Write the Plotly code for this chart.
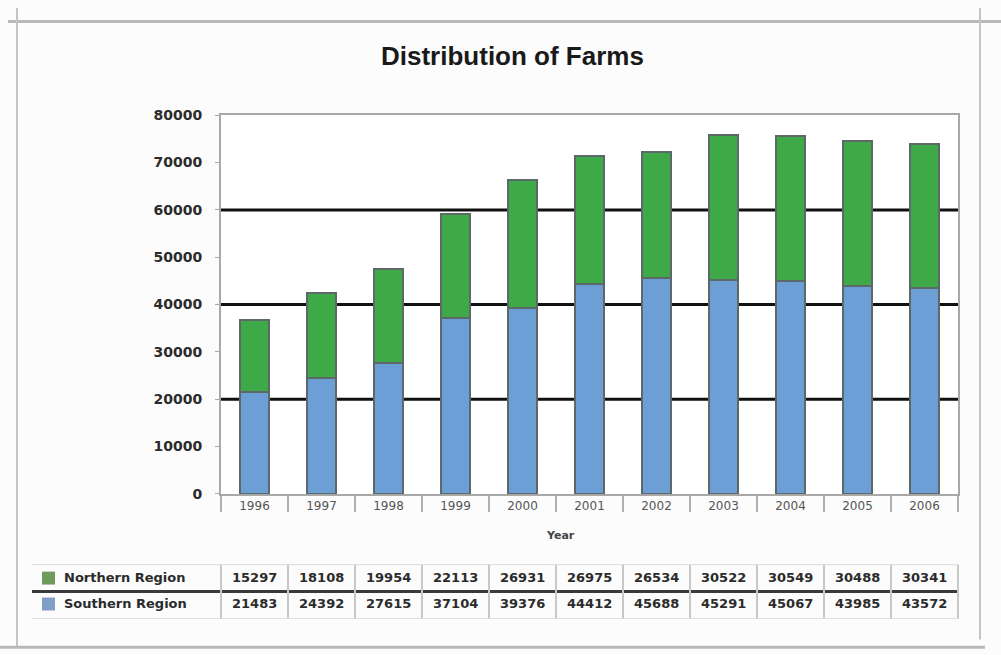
import plotly.graph_objects as go

# Farm counts by year for the two regions (stacked)
years = ["1996", "1997", "1998", "1999", "2000", "2001", "2002", "2003", "2004", "2005", "2006"]
southern_region = [21483, 24392, 27615, 37104, 39376, 44412, 45688, 45291, 45067, 43985, 43572]
northern_region = [15297, 18108, 19954, 22113, 26931, 26975, 26534, 30522, 30549, 30488, 30341]
series_names = ["Northern Region", "Southern Region"]
y_ticks = [0, 10000, 20000, 30000, 40000, 50000, 60000, 70000, 80000]
grid_values = [20000, 40000, 60000]

W, H = 1001, 655
# vertical correction for the page's rendered layout
V_SCALE, V_OFF = 0.979, 6.4


def px(x):
    return x / W


def py(y):
    return 1 - ((y - V_OFF) / V_SCALE) / H


BLUE = "#6b9fd6"
GREEN = "#3daa47"
EDGE = "#5d6868"
TXT = "#2b2b2b"
FONT = "DejaVu Sans"

fig = go.Figure()
fig.add_trace(go.Bar(x=years, y=southern_region, name=series_names[1],
                     marker=dict(color=BLUE, line=dict(color=EDGE, width=2))))
fig.add_trace(go.Bar(x=years, y=northern_region, name=series_names[0],
                     marker=dict(color=GREEN, line=dict(color=EDGE, width=2))))

shapes = []
# page frame lines
shapes.append(dict(type="line", xref="paper", yref="paper", x0=px(8), x1=1, y0=py(20), y1=py(20),
                   line=dict(color="#b8b8b8", width=3)))
shapes.append(dict(type="line", xref="paper", yref="paper", x0=px(17), x1=px(17), y0=1, y1=py(648),
                   line=dict(color="#c4c4c4", width=2)))
shapes.append(dict(type="line", xref="paper", yref="paper", x0=px(980), x1=px(980), y0=1, y1=py(640),
                   line=dict(color="#c4c4c4", width=2)))
shapes.append(dict(type="line", xref="paper", yref="paper", x0=0, x1=px(985), y0=py(648), y1=py(648),
                   line=dict(color="#b8b8b8", width=3)))

# heavy gridlines behind the bars
for g in grid_values:
    shapes.append(dict(type="line", xref="x domain", yref="y", x0=0, x1=1, y0=g, y1=g,
                       layer="below", line=dict(color="#111111", width=3)))

# data table under the chart
tbl_left, tbl_right = 32, 958
row_top, row_mid, row_bot = 565, 592, 619
plot_left, plot_right = 221, 958
col_w = (plot_right - plot_left) / len(years)
shapes.append(dict(type="line", xref="paper", yref="paper", x0=px(tbl_left), x1=px(tbl_right),
                   y0=py(row_mid), y1=py(row_mid), line=dict(color="#3a3a3a", width=3)))
shapes.append(dict(type="line", xref="paper", yref="paper", x0=px(tbl_left), x1=px(tbl_right),
                   y0=py(row_top), y1=py(row_top), line=dict(color="#dddddd", width=1)))
shapes.append(dict(type="line", xref="paper", yref="paper", x0=px(tbl_left), x1=px(tbl_right),
                   y0=py(row_bot), y1=py(row_bot), line=dict(color="#dddddd", width=1)))
for k in range(len(years) + 1):
    xb = plot_left + k * col_w
    shapes.append(dict(type="line", xref="paper", yref="paper", x0=px(xb), x1=px(xb),
                       y0=py(row_top), y1=py(row_bot), line=dict(color="#c8c8c8", width=2)))

# legend swatches in the table
shapes.append(dict(type="rect", xref="paper", yref="paper", x0=px(42), x1=px(55),
                   y0=py(585), y1=py(572), fillcolor="#6f9a5e", line=dict(width=0)))
shapes.append(dict(type="rect", xref="paper", yref="paper", x0=px(42), x1=px(55),
                   y0=py(611), y1=py(598), fillcolor="#7f9fc4", line=dict(width=0)))

annotations = [
    dict(text="<b>Distribution of Farms</b>", xref="paper", yref="paper", x=px(512), y=py(55),
         xanchor="center", yanchor="middle", showarrow=False,
         font=dict(family="Liberation Sans", size=26, color="#1a1a1a")),
    dict(text="<b>Year</b>", xref="paper", yref="paper", x=px(560), y=py(536),
         xanchor="center", yanchor="middle", showarrow=False,
         font=dict(family=FONT, size=11, color="#444")),
    dict(text="<b>" + series_names[0] + "</b>", xref="paper", yref="paper", x=px(62), y=py(578),
         xanchor="left", yanchor="middle", showarrow=False,
         font=dict(family=FONT, size=13, color=TXT)),
    dict(text="<b>" + series_names[1] + "</b>", xref="paper", yref="paper", x=px(62), y=py(604),
         xanchor="left", yanchor="middle", showarrow=False,
         font=dict(family=FONT, size=13, color=TXT)),
]
for i, (g, b) in enumerate(zip(northern_region, southern_region)):
    annotations.append(dict(text="<b>%d</b>" % g, xref="x", yref="paper", x=i, y=py(578),
                            xanchor="center", yanchor="middle", showarrow=False,
                            font=dict(family=FONT, size=13, color=TXT)))
    annotations.append(dict(text="<b>%d</b>" % b, xref="x", yref="paper", x=i, y=py(604),
                            xanchor="center", yanchor="middle", showarrow=False,
                            font=dict(family=FONT, size=13, color=TXT)))

fig.update_layout(
    width=W, height=H,
    margin=dict(l=0, r=0, t=0, b=0),
    barmode="stack",
    bargap=0.58,
    showlegend=False,
    paper_bgcolor="#fcfcfc",
    plot_bgcolor="#ffffff",
    shapes=shapes,
    annotations=annotations,
    xaxis=dict(domain=[px(plot_left), px(plot_right)], showgrid=False,
               showline=True, linecolor="#a8a8a8", linewidth=2, mirror=True,
               ticks="outside", tickson="boundaries", ticklen=16, tickcolor="#b0b0b0", tickwidth=2,
               tickfont=dict(family=FONT, size=12, color="#555")),
    yaxis=dict(domain=[py(494), py(114)], range=[0, 80000], tickvals=y_ticks,
               ticktext=["<b>%d</b>" % v for v in y_ticks], showgrid=False, zeroline=False,
               showline=True, linecolor="#a8a8a8", linewidth=2, mirror=True,
               ticks="outside", ticklen=4, tickcolor="#a8a8a8", ticklabelstandoff=10,
               tickfont=dict(family=FONT, size=14, color=TXT)),
)

fig.write_html("out.html")
